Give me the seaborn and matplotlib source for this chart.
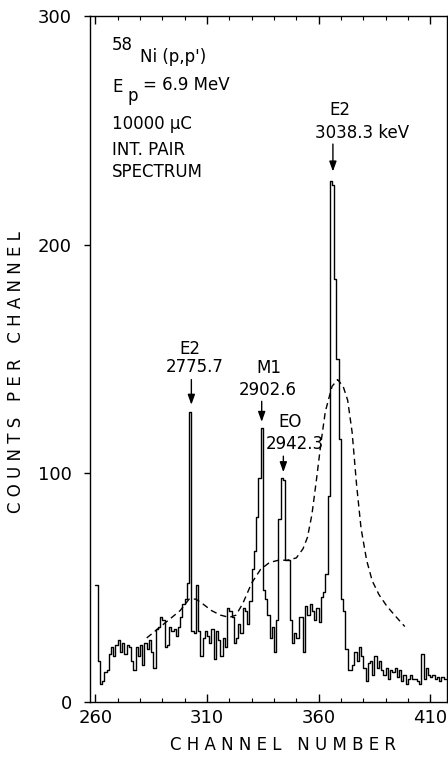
import numpy as np
import pandas as pd
import matplotlib
matplotlib.use("Agg")
import matplotlib.pyplot as plt
from matplotlib.ticker import MultipleLocator
import seaborn as sns

# ---- data ----
channels = list(range(260, 417))
counts = [
    51, 18, 8, 9, 13, 14, 21, 24, 20, 25,          # 260-269
    27, 22, 26, 21, 25, 24, 18, 14, 24, 20,        # 270-279
    25, 16, 26, 23, 27, 22, 15, 32, 33, 37,        # 280-289
    36, 24, 25, 33, 31, 32, 29, 33, 37, 43,        # 290-299
    45, 52, 127, 31, 30, 51, 31, 20, 28, 31,       # 300-309
    29, 26, 32, 19, 31, 27, 20, 28, 24, 41,        # 310-319
    40, 37, 26, 28, 34, 30, 41, 40, 34, 44,        # 320-329
    58, 66, 81, 98, 120, 49, 45, 38, 28, 33,       # 330-339
    22, 36, 80, 98, 97, 62, 62, 36, 26, 30,        # 340-349
    28, 37, 37, 22, 42, 38, 43, 40, 36, 41,        # 350-359
    35, 46, 48, 56, 90, 228, 226, 185, 150, 115,   # 360-369
    45, 40, 23, 14, 14, 16, 22, 18, 24, 20,        # 370-379
    15, 9, 17, 18, 12, 20, 15, 18, 14, 12,         # 380-389
    15, 10, 14, 13, 15, 11, 14, 9, 12, 8,          # 390-399
    10, 12, 10, 10, 9, 8, 21, 10, 15, 12,          # 400-409
    11, 12, 10, 11, 9, 11, 10,                     # 410-416
]

fit_channels = [283, 288, 293, 298, 302, 305, 308, 312, 316, 320, 323, 326,
                330, 334, 338, 342, 346, 350, 353, 355, 357, 359, 361, 363,
                366, 368.5, 371, 373, 375, 377, 379, 381.5, 384, 387, 390.5,
                394, 398.6]
fit_counts = [28, 32, 36, 40, 45, 45, 43, 40, 38, 37, 38, 43,
              52, 58, 61, 62, 62, 63, 67, 72, 82, 97, 113, 127,
              138, 141, 138, 132, 118, 95, 76, 62, 53, 47, 42,
              38, 33]

x_ticks = [260, 310, 360, 410]
y_ticks = [0, 100, 200, 300]

# ---- figure ----
sns.set_theme(style="ticks")
plt.rcParams["font.family"] = ["DejaVu Sans"]
plt.rcParams["text.color"] = "black"
plt.rcParams["axes.labelcolor"] = "black"
plt.rcParams["xtick.color"] = "black"
plt.rcParams["ytick.color"] = "black"

W, H = 448, 759
fig = plt.figure(figsize=(W / 100, H / 100), dpi=100)
ax = fig.add_axes([90 / W, 1 - 702 / H, 357 / W, 686 / H])

spec = pd.DataFrame({"channel": channels, "counts": counts})
edges = [float(e) for e in range(260, 418)]
sns.histplot(data=spec, x="channel", weights="counts", bins=edges,
             element="step", fill=False, color="black", linewidth=1.0, ax=ax)

fit = pd.DataFrame({"channel": fit_channels, "counts": fit_counts})
n_before = len(ax.lines)
sns.lineplot(data=fit, x="channel", y="counts", color="black", linewidth=1.0,
             sort=True, ax=ax)
for ln in ax.lines[n_before:]:
    ln.set_linestyle((0, (4.5, 3.0)))

ax.set_xlim(257.6, 417.5)
ax.set_ylim(0, 300)
ax.set_xticks(x_ticks)
ax.xaxis.set_minor_locator(MultipleLocator(10))
ax.set_yticks(y_ticks)
ax.set_xlabel("")
ax.set_ylabel("")

for s in ax.spines.values():
    s.set_visible(True)
    s.set_linewidth(1.0)
    s.set_color("black")

ax.tick_params(axis="x", which="major", direction="in", length=6, width=1,
               top=True, bottom=True, labelsize=13, pad=5, colors="black")
ax.tick_params(axis="x", which="minor", direction="in", length=3, width=0.8,
               top=True, bottom=True, colors="black")
ax.tick_params(axis="y", which="major", direction="out", length=4, width=1,
               left=True, right=False, labelsize=13, pad=9, colors="black")

fs = 12
tc = "black"
# top-left block
ax.text(0.062, 0.958, "58", transform=ax.transAxes, fontsize=fs, va="center", ha="left", color=tc)
ax.text(0.140, 0.940, "Ni (p,p')", transform=ax.transAxes, fontsize=fs, va="center", ha="left", color=tc)
ax.text(0.062, 0.896, "E", transform=ax.transAxes, fontsize=fs, va="center", ha="left", color=tc)
ax.text(0.104, 0.884, "p", transform=ax.transAxes, fontsize=fs, va="center", ha="left", color=tc)
ax.text(0.148, 0.900, "= 6.9 MeV", transform=ax.transAxes, fontsize=fs, va="center", ha="left", color=tc)
ax.text(0.062, 0.842, "10000 \u03bcC", transform=ax.transAxes, fontsize=fs, va="center", ha="left", color=tc)
ax.text(0.062, 0.804, "INT. PAIR", transform=ax.transAxes, fontsize=fs, va="center", ha="left", color=tc)
ax.text(0.062, 0.773, "SPECTRUM", transform=ax.transAxes, fontsize=fs, va="center", ha="left", color=tc)

arrow = dict(arrowstyle="-|>,head_length=0.5,head_width=0.18", color="black", lw=1.0,
             shrinkA=0, shrinkB=0)

# E2 3038.3
ax.text(369.6, 259, "E2", fontsize=fs, ha="center", va="center", color=tc)
ax.text(379.5, 249, "3038.3 keV", fontsize=fs, ha="center", va="center", color=tc)
ax.annotate("", xy=(366.4, 232), xytext=(366.4, 244), arrowprops=arrow)
# E2 2775.7
ax.text(302.4, 154.5, "E2", fontsize=fs, ha="center", va="center", color=tc)
ax.text(304.6, 146.5, "2775.7", fontsize=fs, ha="center", va="center", color=tc)
ax.annotate("", xy=(303.0, 130), xytext=(303.0, 141), arrowprops=arrow)
# M1 2902.6
ax.text(337.9, 146, "M1", fontsize=fs, ha="center", va="center", color=tc)
ax.text(337.2, 136.5, "2902.6", fontsize=fs, ha="center", va="center", color=tc)
ax.annotate("", xy=(334.5, 122.5), xytext=(334.5, 131.5), arrowprops=arrow)
# E0 2942.3
ax.text(347.2, 122.5, "EO", fontsize=fs, ha="center", va="center", color=tc)
ax.text(349.4, 113, "2942.3", fontsize=fs, ha="center", va="center", color=tc)
ax.annotate("", xy=(344.2, 100.5), xytext=(344.2, 107.5), arrowprops=arrow)

fig.text(283 / W, 1 - 745 / H, "C H A N N E L   N U M B E R", fontsize=12,
         ha="center", va="center", color=tc)
fig.text(16 / W, 1 - 372 / H, "C O U N T S   P E R   C H A N N E L", fontsize=12,
         ha="center", va="center", rotation=90, color=tc)

fig.savefig("out.png", dpi=100, facecolor="white")
